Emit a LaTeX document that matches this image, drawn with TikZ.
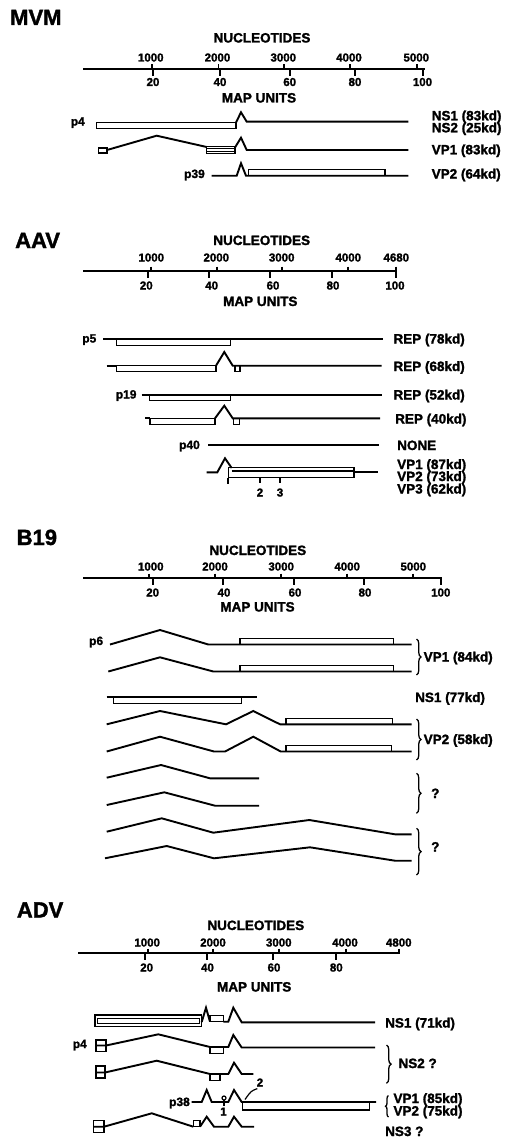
\documentclass[tikz,border=0pt]{standalone}
\usepackage{fontspec}
\setmainfont{Liberation Sans}[BoldFeatures={FakeBold=1.6}]
\usetikzlibrary{decorations.pathreplacing}
\newcommand{\fTtl}{\fontsize{22}{22}\selectfont\bfseries}
\newcommand{\fHd}{\fontsize{13.5}{13.5}\selectfont\bfseries}
\newcommand{\fNum}{\fontsize{11.5}{11.5}\selectfont\bfseries}
\newcommand{\fLab}{\fontsize{13.5}{13.5}\selectfont\bfseries}
\newcommand{\fPrm}{\fontsize{12}{12}\selectfont\bfseries}
\begin{document}
\begin{tikzpicture}[x=1pt,y=-1pt,
  tline/.style={line width=1.9pt, line join=miter, miter limit=20},
  axisl/.style={line width=2.3pt},
  tk/.style={line width=1.8pt},
  exon/.style={line width=1.5pt},
  ttl/.style={font=\fTtl, anchor=base west, inner sep=0pt},
  hd/.style={font=\fHd, anchor=base, inner sep=0pt},
  num/.style={font=\fNum, anchor=base, inner sep=0pt},
  lab/.style={font=\fLab, anchor=base west, inner sep=0pt},
  prm/.style={font=\fPrm, anchor=base east, inner sep=0pt},
  brc/.style={decorate, decoration={brace, amplitude=4.5pt}, line width=1.3pt}]
\useasboundingbox (0,0) rectangle (504,1137);
\fill[white] (0,0) rectangle (504,1137);

% ================= MVM =================
\node[ttl] (mvmT) at (10,25) {MVM};
\node[hd] (mvmN) at (262,42.5) {NUCLEOTIDES};
\node[num] (mvmn1) at (150.8,61.5) {1000};
\node[num] (mvmn2) at (217.5,61.5) {2000};
\node[num] (mvmn3) at (283.3,61.5) {3000};
\node[num] (mvmn4) at (349,61.5) {4000};
\node[num] (mvmn5) at (416.3,61.5) {5000};
\draw[axisl] (83.3,69.3) -- (424.5,69.3);
\foreach \x in {152,218.5,284,350,417} \draw[tk] (\x,64.5) -- (\x,69.3);
\foreach \x in {152.7,220,290,355,423.3} \draw[tk] (\x,69.3) -- (\x,76);
\node[num] (mvmm1) at (153,86) {20};
\node[num] (mvmm2) at (220,86) {40};
\node[num] (mvmm3) at (289.7,86) {60};
\node[num] (mvmm4) at (355,86) {80};
\node[num] (mvmm5) at (422.5,86) {100};
\node[hd] (mvmM) at (259,102.5) {MAP UNITS};
% NS1/NS2
\draw[exon] (96.7,122.5) rectangle (236,128.7);
\draw[tline] (236,122.5) -- (241,112.3) -- (246.7,121.7) -- (408.3,121.7);
\node[prm] (mvmp4) at (85,125.5) {p4};
\node[lab] (mvmL1) at (431.5,120.3) {NS1 (83kd)};
\node[lab] (mvmL2) at (431.5,132.3) {NS2 (25kd)};
% VP1
\draw[exon] (98.5,148) rectangle (107,153);
\draw[tline] (107,150) -- (156.7,135.7) -- (206.7,147);
\draw[exon] (206.7,146.7) rectangle (235,153.3);
\draw[line width=0.9pt] (207,148.9) -- (235,148.9) (207,151.1) -- (235,151.1);
\draw[tline] (235,147.5) -- (241,137.7) -- (246.7,150) -- (408.3,150);
\node[lab] (mvmL3) at (431.5,154.3) {VP1 (83kd)};
% VP2
\draw[tline] (211.7,175.7) -- (236.7,175.7) -- (241,163.3) -- (246,175.7) -- (408.3,175.7);
\draw[exon] (248.3,169.7) rectangle (385,175.7);
\node[prm] (mvmp39) at (205,178) {p39};
\node[lab] (mvmL4) at (431.5,178.5) {VP2 (64kd)};

% ================= AAV =================
\node[ttl] (aavT) at (15,248) {AAV};
\node[hd] (aavN) at (261.7,245) {NUCLEOTIDES};
\node[num] (aavn1) at (151.3,261.5) {1000};
\node[num] (aavn2) at (216.3,261.5) {2000};
\node[num] (aavn3) at (281.7,261.5) {3000};
\node[num] (aavn4) at (348.3,261.5) {4000};
\node[num] (aavn5) at (396.3,261.5) {4680};
\draw[axisl] (83.3,271) -- (396.7,271);
\foreach \x in {150.7,216.7,281.7,348.3,396} \draw[tk] (\x,266.5) -- (\x,271);
\foreach \x in {147.7,209.3,270,332.3,396} \draw[tk] (\x,271) -- (\x,277.5);
\node[num] (aavm1) at (146.3,289.5) {20};
\node[num] (aavm2) at (211.7,289.5) {40};
\node[num] (aavm3) at (273,289.5) {60};
\node[num] (aavm4) at (333,289.5) {80};
\node[num] (aavm5) at (395,289.5) {100};
\node[hd] (aavM) at (260.3,306) {MAP UNITS};
% REP78
\draw[tline] (103.3,339) -- (383.3,339);
\draw[exon] (116.7,339) rectangle (230.7,345.3);
\node[prm] (aavp5) at (96.5,342.5) {p5};
\node[lab] (aavL1) at (393.3,343.5) {REP (78kd)};
% REP68
\draw[tline] (106.7,365.7) -- (116.7,365.7);
\draw[exon] (116.7,365.7) rectangle (216,371.3);
\draw[tline] (216,365.7) -- (224.3,352) -- (232.7,365.7) -- (381.7,365.7);
\draw[exon] (235,365.7) rectangle (240,371.5);
\node[lab] (aavL2) at (393.3,371) {REP (68kd)};
% REP52
\draw[tline] (141.7,394.7) -- (381.7,394.7);
\draw[exon] (149.3,394.7) rectangle (230.7,400.7);
\node[prm] (aavp19) at (136.7,398.5) {p19};
\node[lab] (aavL3) at (393.3,399.5) {REP (52kd)};
% REP40
\draw[tline] (145,418.3) -- (150,418.3);
\draw[exon] (150,418.3) rectangle (215,424.3);
\draw[tline] (215,418.3) -- (224.3,405.7) -- (232.7,418.3) -- (380,418.3);
\draw[exon] (233.3,418.3) rectangle (239.3,424.3);
\node[lab] (aavL4) at (395,423.5) {REP (40kd)};
% NONE
\draw[tline] (208.3,445) -- (379.3,445);
\node[prm] (aavp40) at (200,449) {p40};
\node[lab] (aavL5) at (397,450) {NONE};
% VP1-3
\draw[tline] (206.7,472.3) -- (217.3,472.3) -- (225,458.3) -- (231.7,468);
\draw[exon] (228.3,467.7) rectangle (354,477.7);
\draw[exon] (231.7,471.2) -- (354,471.2);
\draw[tline] (354,472.3) -- (378.3,472.3);
\draw[tk] (228.3,477.7) -- (228.3,484.3);
\draw[tk] (260,477.7) -- (260,483.3);
\draw[tk] (280,477.7) -- (280,483.3);
\node[num] (aavt2) at (260,496.5) {2};
\node[num] (aavt3) at (280,496.5) {3};
\node[lab] (aavL6) at (397,469) {VP1 (87kd)};
\node[lab] (aavL7) at (397,481) {VP2 (73kd)};
\node[lab] (aavL8) at (397,493.5) {VP3 (62kd)};

% ================= B19 =================
\node[ttl] (b19T) at (16.5,545) {B19};
\node[hd] (b19N) at (257.8,555) {NUCLEOTIDES};
\node[num] (b19n1) at (150.8,570.5) {1000};
\node[num] (b19n2) at (215,570.5) {2000};
\node[num] (b19n3) at (281.2,570.5) {3000};
\node[num] (b19n4) at (347.2,570.5) {4000};
\node[num] (b19n5) at (413.3,570.5) {5000};
\draw[axisl] (83.3,578.3) -- (441.7,578.3);
\foreach \x in {149.3,215,281,347.3,413.3} \draw[tk] (\x,573.5) -- (\x,578.3);
\foreach \x in {152.7,223.3,294,364.3,440.7} \draw[tk] (\x,578.3) -- (\x,585);
\node[num] (b19m1) at (152.7,596.5) {20};
\node[num] (b19m2) at (224,596.5) {40};
\node[num] (b19m3) at (295,596.5) {60};
\node[num] (b19m4) at (365,596.5) {80};
\node[num] (b19m5) at (440.8,596.5) {100};
\node[hd] (b19M) at (257.5,611.5) {MAP UNITS};
% VP1 pair
\draw[tline] (110,644.5) -- (160,630) -- (208.3,644.5) -- (411.7,644.5);
\draw[exon] (240,638.5) rectangle (393.3,644.5);
\node[prm] (b19p6) at (103.3,645) {p6};
\draw[tline] (108.3,671.5) -- (160,657.3) -- (213.3,671.5) -- (411.7,671.5);
\draw[exon] (240,665.5) rectangle (393.3,671.5);
\coordinate (b1a) at (416.5,639);
\coordinate (b1b) at (416.5,675);
\draw[brc] (b1a) -- (b1b);
\node[lab] (b19L1) at (423.5,661.5) {VP1 (84kd)};
% NS1
\draw[tline] (106.7,696.7) -- (256.7,696.7);
\draw[exon] (113.3,696.7) rectangle (241.7,703.7);
\node[lab] (b19L2) at (415,702) {NS1 (77kd)};
% VP2 pair
\draw[tline] (106.7,724.3) -- (160,711) -- (226,724.3) -- (253.3,711) -- (280,724.3) -- (411.7,724.3);
\draw[exon] (286,718.3) rectangle (392.7,724.3);
\draw[tline] (106.7,751.5) -- (160,736.7) -- (214,751.5) -- (225,751.5) -- (253.3,736.7) -- (280.7,751.5) -- (411.7,751.5);
\draw[exon] (286,745.5) rectangle (391.7,751.5);
\coordinate (b2a) at (416.5,719);
\coordinate (b2b) at (416.5,760);
\draw[brc] (b2a) -- (b2b);
\node[lab] (b19L3) at (423.5,744) {VP2 (58kd)};
% ? group 1
\draw[tline] (106.7,777.7) -- (161,765) -- (210,778.3) -- (259,778.3);
\draw[tline] (106.7,805) -- (164.3,792.3) -- (215,805.7) -- (259,805.7);
\coordinate (b3a) at (416.5,773.3);
\coordinate (b3b) at (416.5,813.3);
\draw[brc] (b3a) -- (b3b);
\node[lab] (b19L4) at (431,798) {?};
% ? group 2
\draw[tline] (106.7,831.7) -- (161.7,818.3) -- (213.3,832.7) -- (309.3,820) -- (395,834.3) -- (411.7,834.3);
\draw[tline] (105,858.3) -- (166.7,846) -- (214,858.3) -- (310,847.3) -- (395,860.7) -- (411.7,860.7);
\coordinate (b4a) at (416.5,828.3);
\coordinate (b4b) at (416.5,875);
\draw[brc] (b4a) -- (b4b);
\node[lab] (b19L5) at (431,851.5) {?};

% ================= ADV =================
\node[ttl] (advT) at (16.7,917.5) {ADV};
\node[hd] (advN) at (255.8,930) {NUCLEOTIDES};
\node[num] (advn1) at (147.2,946.5) {1000};
\node[num] (advn2) at (213,946.5) {2000};
\node[num] (advn3) at (278.8,946.5) {3000};
\node[num] (advn4) at (345,946.5) {4000};
\node[num] (advn5) at (398.8,946.5) {4800};
\draw[axisl] (78.3,953.3) -- (400,953.3);
\foreach \x in {148.3,213.3,279.3,346,399.3} \draw[tk] (\x,948.5) -- (\x,953.3);
\foreach \x in {145,207.3,273.3,336} \draw[tk] (\x,953.3) -- (\x,960);
\node[num] (advm1) at (146.7,971.5) {20};
\node[num] (advm2) at (207.5,971.5) {40};
\node[num] (advm3) at (274,971.5) {60};
\node[num] (advm4) at (336.3,971.5) {80};
\node[hd] (advM) at (254.2,991.5) {MAP UNITS};
% NS1
\draw[exon] (95,1015) rectangle (201.7,1026.7);
\draw[line width=0.9pt] (97.5,1018.6) rectangle (199.3,1023.1);
\draw[tline] (201.7,1022) -- (206,1007.7) -- (210,1021.7);
\draw[exon] (210,1015.5) rectangle (223.3,1021.7);
\draw[tline] (223.3,1021.7) -- (228.3,1021.7) -- (233.3,1007.7) -- (241.7,1022.3) -- (375,1022.3);
\node[lab] (advL1) at (385,1027.5) {NS1 (71kd)};
% NS2 line 1
\draw[exon] (96,1040) rectangle (106,1051.5);
\draw[tline] (96,1045.5) -- (106,1045.5) -- (158.3,1034.3) -- (210,1047) -- (228.3,1047) -- (233.3,1035) -- (241.7,1047.5) -- (375,1047.5);
\draw[exon] (210,1047) rectangle (223.3,1053.5);
\node[prm] (advp4) at (87,1048) {p4};
% NS2 line 2
\draw[exon] (96,1066) rectangle (105,1078);
\draw[tline] (96,1072.5) -- (105,1072.5) -- (156.7,1060.7) -- (210,1074) -- (228.3,1074) -- (234,1062.7) -- (241.7,1074) -- (253.3,1074);
\draw[exon] (210,1074) rectangle (220,1080.5);
\coordinate (b5a) at (386.5,1045);
\coordinate (b5b) at (386.5,1083.3);
\draw[brc] (b5a) -- (b5b);
\node[lab] (advL2) at (398.3,1068) {NS2 ?};
% VP1/VP2
\draw[tline] (191.7,1102) -- (201.7,1102) -- (206.7,1090) -- (211.7,1102) -- (228.3,1102) -- (234,1090) -- (241.7,1102) -- (376,1102);
\draw[exon] (242.7,1102.3) rectangle (369.3,1110);
\draw[line width=1.2pt] (224,1098) circle (2);
\draw[line width=1.2pt] (224,1100) -- (224,1106);
\node[num] (adv1) at (223.5,1115.5) {1};
\node[num] (adv2) at (260,1086.5) {2};
\draw[line width=1.2pt] (257.3,1088.6) .. controls (251,1091) .. (245,1099.5);
\node[prm] (advp38) at (190,1106) {p38};
\coordinate (b6a) at (388.5,1117);
\coordinate (b6b) at (388.5,1095.5);
\draw[brc, decoration={brace, amplitude=3pt}] (b6a) -- (b6b);
\node[lab] (advL3) at (393.3,1103) {VP1 (85kd)};
\node[lab] (advL4) at (393.3,1115.5) {VP2 (75kd)};
% NS3
\draw[exon] (93.3,1120.5) rectangle (104,1132.5);
\draw[tline] (93.3,1126.7) -- (104,1126.7) -- (151.7,1113.3) -- (193.3,1126.7);
\draw[exon] (193.3,1120.7) rectangle (200,1126.7);
\draw[tline] (200,1126.7) -- (206.7,1116.7) -- (214,1126.7) -- (228.3,1126.7) -- (234,1116.7) -- (241.7,1126.7) -- (254,1126.7);
\node[lab] (advL5) at (385,1136) {NS3 ?};
\end{tikzpicture}
\end{document}
